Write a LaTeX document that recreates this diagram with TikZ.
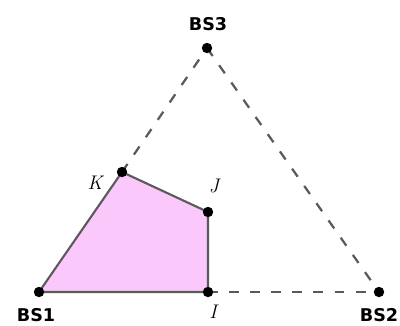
\documentclass[tikz,border=0pt]{standalone}
\usepackage{fontspec}
\newfontfamily\bsfont{DejaVu Sans}
\definecolor{regionfill}{RGB}{250,200,250}
\definecolor{edgegray}{RGB}{90,90,90}
\begin{document}
\begin{tikzpicture}[x=0.025cm,y=-0.025cm,
  dot/.style={circle,fill=black,inner sep=0pt,minimum size=0.26cm},
  bslabel/.style={font=\bsfont\bfseries\fontsize{12.5}{14}\selectfont,inner sep=0pt},
  ptlabel/.style={font=\itshape\fontsize{14}{16}\selectfont,inner sep=0pt},
  dashline/.style={edgegray,line width=1.6pt,dash pattern=on 7pt off 8pt},
  solidline/.style={edgegray,line width=1.5pt}]
\useasboundingbox (0,0) rectangle (400,325);
\coordinate (bs1) at (39,292);
\coordinate (bs2) at (379,292);
\coordinate (bs3) at (207,48);
\coordinate (k) at (122,172);
\coordinate (j) at (208,212);
\coordinate (i) at (208,292);
\fill[regionfill] (bs1) -- (k) -- (j) -- (i) -- cycle;
\draw[dashline] (k) -- (bs3);
\draw[dashline] (bs3) -- (bs2);
\draw[dashline] (i) -- (bs2);
\draw[solidline] (bs1) -- (k) -- (j) -- (i) -- (bs1);
\node[dot] (n1) at (bs1) {};
\node[dot] (n2) at (bs2) {};
\node[dot] (n3) at (bs3) {};
\node[dot] (nk) at (k) {};
\node[dot] (nj) at (j) {};
\node[dot] (ni) at (i) {};
\node[bslabel] (l1) at (36,315) {BS1};
\node[bslabel] (l2) at (379,315) {BS2};
\node[bslabel] (l3) at (208,24) {BS3};
\node[ptlabel] (lk) at (95,183) {K};
\node[ptlabel] (lj) at (214,186) {J};
\node[ptlabel] (li) at (213,312) {I};
\end{tikzpicture}
\end{document}
